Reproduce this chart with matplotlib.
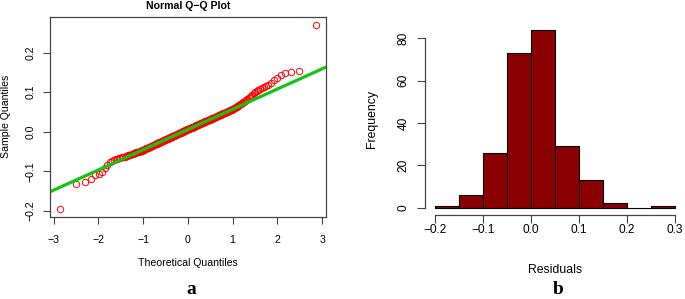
import numpy as np
import matplotlib.pyplot as plt
from statistics import NormalDist

plt.rcParams['font.family'] = ['Liberation Sans', 'DejaVu Sans']

# residuals (sorted sample quantiles)
residuals = [
    -0.196, -0.131, -0.126, -0.120, -0.110, -0.108, -0.103,
    -0.092, -0.083, -0.077, -0.073, -0.071, -0.069, -0.068, -0.067, -0.066, -0.065,
    -0.064, -0.063, -0.062, -0.061, -0.060, -0.059, -0.058, -0.057, -0.056, -0.055,
    -0.054, -0.053, -0.052, -0.0515, -0.051, -0.0505,
    -0.0498, -0.0488, -0.0479, -0.0469, -0.0460, -0.0451, -0.0442, -0.0433, -0.0424,
    -0.0415, -0.0407, -0.0399, -0.0391, -0.0383, -0.0375, -0.0367, -0.0359, -0.0351,
    -0.0344, -0.0336, -0.0329, -0.0322, -0.0315, -0.0307, -0.0300, -0.0293, -0.0286,
    -0.0279, -0.0272, -0.0265, -0.0258, -0.0251, -0.0245, -0.0238, -0.0232, -0.0225,
    -0.0218, -0.0212, -0.0206, -0.0199, -0.0193, -0.0187, -0.0181, -0.0174, -0.0168,
    -0.0162, -0.0156, -0.0150, -0.0144, -0.0138, -0.0132, -0.0126, -0.0120, -0.0114,
    -0.0108, -0.0102, -0.0096, -0.0090, -0.0085, -0.0079, -0.0073, -0.0067, -0.0061,
    -0.0055, -0.0050, -0.0044, -0.0038, -0.0032, -0.0027, -0.0021, -0.0016, -0.0010,
    -0.0004,
    0.0005, 0.0009, 0.0013, 0.0018, 0.0023, 0.0028, 0.0034, 0.0039, 0.0045, 0.0050,
    0.0056, 0.0061, 0.0066, 0.0071, 0.0077, 0.0082, 0.0088, 0.0093, 0.0099, 0.0104,
    0.0110, 0.0115, 0.0120, 0.0125, 0.0131, 0.0136, 0.0142, 0.0147, 0.0153, 0.0158,
    0.0164, 0.0169, 0.0175, 0.0180, 0.0186, 0.0191, 0.0197, 0.0202, 0.0208, 0.0214,
    0.0220, 0.0225, 0.0231, 0.0236, 0.0242, 0.0248, 0.0254, 0.0260, 0.0266, 0.0271,
    0.0277, 0.0283, 0.0289, 0.0295, 0.0301, 0.0307, 0.0313, 0.0319, 0.0325, 0.0331,
    0.0338, 0.0344, 0.0350, 0.0356, 0.0363, 0.0370, 0.0376, 0.0383, 0.0390, 0.0396,
    0.0403, 0.0410, 0.0416, 0.0423, 0.0430, 0.0437, 0.0445, 0.0452, 0.0460, 0.0467,
    0.0475, 0.0482, 0.0490, 0.0497,
    0.0505, 0.0513, 0.0521, 0.0530, 0.0539, 0.0548, 0.0557, 0.0567, 0.0578, 0.0590,
    0.0602, 0.0615, 0.0628, 0.0643, 0.0658, 0.0672, 0.0688, 0.0705, 0.0722, 0.0740,
    0.0758, 0.0777, 0.0797, 0.0818, 0.0840, 0.0865, 0.0895, 0.0935, 0.0985,
    0.1015, 0.1035, 0.106, 0.109, 0.111, 0.113, 0.116, 0.118, 0.122, 0.131,
    0.135, 0.144, 0.147, 0.151, 0.153, 0.270,
]

hist_edges = [-0.2, -0.15, -0.1, -0.05, 0.0, 0.05, 0.1, 0.15, 0.2, 0.25, 0.3]
qq_xticks = [-3, -2, -1, 0, 1, 2, 3]
qq_yticks = [-0.2, -0.1, 0.0, 0.1, 0.2]
qq_ylabels = ['\u22120.2', '\u22120.1', '0.0', '0.1', '0.2']
hist_yticks = [0, 20, 40, 60, 80]
hist_xticks = [-0.2, -0.1, 0.0, 0.1, 0.2, 0.3]
hist_xlabels = ['\u22120.2', '\u22120.1', '0.0', '0.1', '0.2', '0.3']

W, H = 685, 299
fig = plt.figure(figsize=(W / 100, H / 100), dpi=100)

def px(x, y):
    return x / W, 1 - y / H

axc = '#444444'

# ---- a: normal Q-Q plot ----
ax1 = fig.add_axes([49.6 / W, 1 - 216.7 / H, (326 - 49.6) / W, (216.7 - 17.4) / H])
sample = np.sort(residuals)
n = len(sample)
nd = NormalDist()
theo = np.array([nd.inv_cdf((i - 0.5) / n) for i in range(1, n + 1)])
ax1.plot(theo, sample, ls='none', marker='o', ms=4.6, mfc='none', mec='#ff0000', mew=0.7)
ax1.margins(x=0.04, y=0.04)
# qqline through the quartiles
q25, q75 = np.percentile(sample, [25, 75])
z25, z75 = nd.inv_cdf(0.25), nd.inv_cdf(0.75)
slope = (q75 - q25) / (z75 - z25)
ax1.axline((0, q25 - slope * z25), slope=slope, color='#14c414', lw=2.3)
ax1.set_xticks(qq_xticks)
ax1.set_xticklabels([str(t).replace('-', '\u2212') for t in qq_xticks])
ax1.set_yticks(qq_yticks)
ax1.set_yticklabels(qq_ylabels, rotation=90, va='center')
ax1.tick_params(axis='both', length=5.2, width=0.8, color=axc, labelsize=7.6)
ax1.tick_params(axis='x', pad=8)
ax1.tick_params(axis='y', pad=4.9)
for s in ax1.spines.values():
    s.set_color(axc)
    s.set_linewidth(0.9)

fig.text(*px(188, 6.3), 'Normal Q\u2212Q Plot', ha='center', va='center', fontsize=7.6, fontweight='bold')
fig.text(*px(188, 262.5), 'Theoretical Quantiles', ha='center', va='center', fontsize=7.6)
fig.text(*px(6, 116.7), 'Sample Quantiles', ha='center', va='center', rotation=90, fontsize=7.6)
fig.text(*px(191.5, 289), 'a', ha='center', va='center', fontsize=14, fontweight='bold',
         family='Liberation Serif')

# ---- b: histogram of residuals ----
ax2 = fig.add_axes([425.4 / W, 1 - 214.8 / H, (684.6 - 425.4) / W, (214.8 - 22.8) / H])
ax2.hist(residuals, bins=hist_edges, color='#8b0000', edgecolor='black', linewidth=0.8)
ax2.use_sticky_edges = False
ax2.margins(x=0.04, y=0.04)
ax2.spines['top'].set_visible(False)
ax2.spines['right'].set_visible(False)
ax2.spines['left'].set_bounds(hist_yticks[0], hist_yticks[-1])
ax2.spines['bottom'].set_bounds(hist_xticks[0], hist_xticks[-1])
for s in ax2.spines.values():
    s.set_color(axc)
    s.set_linewidth(0.9)
ax2.set_yticks(hist_yticks)
ax2.set_yticklabels([str(t) for t in hist_yticks], rotation=90, va='center')
ax2.set_xticks(hist_xticks)
ax2.set_xticklabels(hist_xlabels)
ax2.tick_params(axis='both', length=5.5, width=0.8, color=axc, labelsize=8.6)
ax2.tick_params(axis='x', pad=1.2)
ax2.tick_params(axis='y', pad=6)

fig.text(*px(371.7, 118.5), 'Frequency', ha='center', va='center', rotation=90, fontsize=8.8)
fig.text(*px(555.5, 270), 'Residuals', ha='center', va='center', fontsize=8.8)
fig.text(*px(558, 289), 'b', ha='center', va='center', fontsize=14, fontweight='bold',
         family='Liberation Serif')

fig.savefig('out.png', dpi=100)
